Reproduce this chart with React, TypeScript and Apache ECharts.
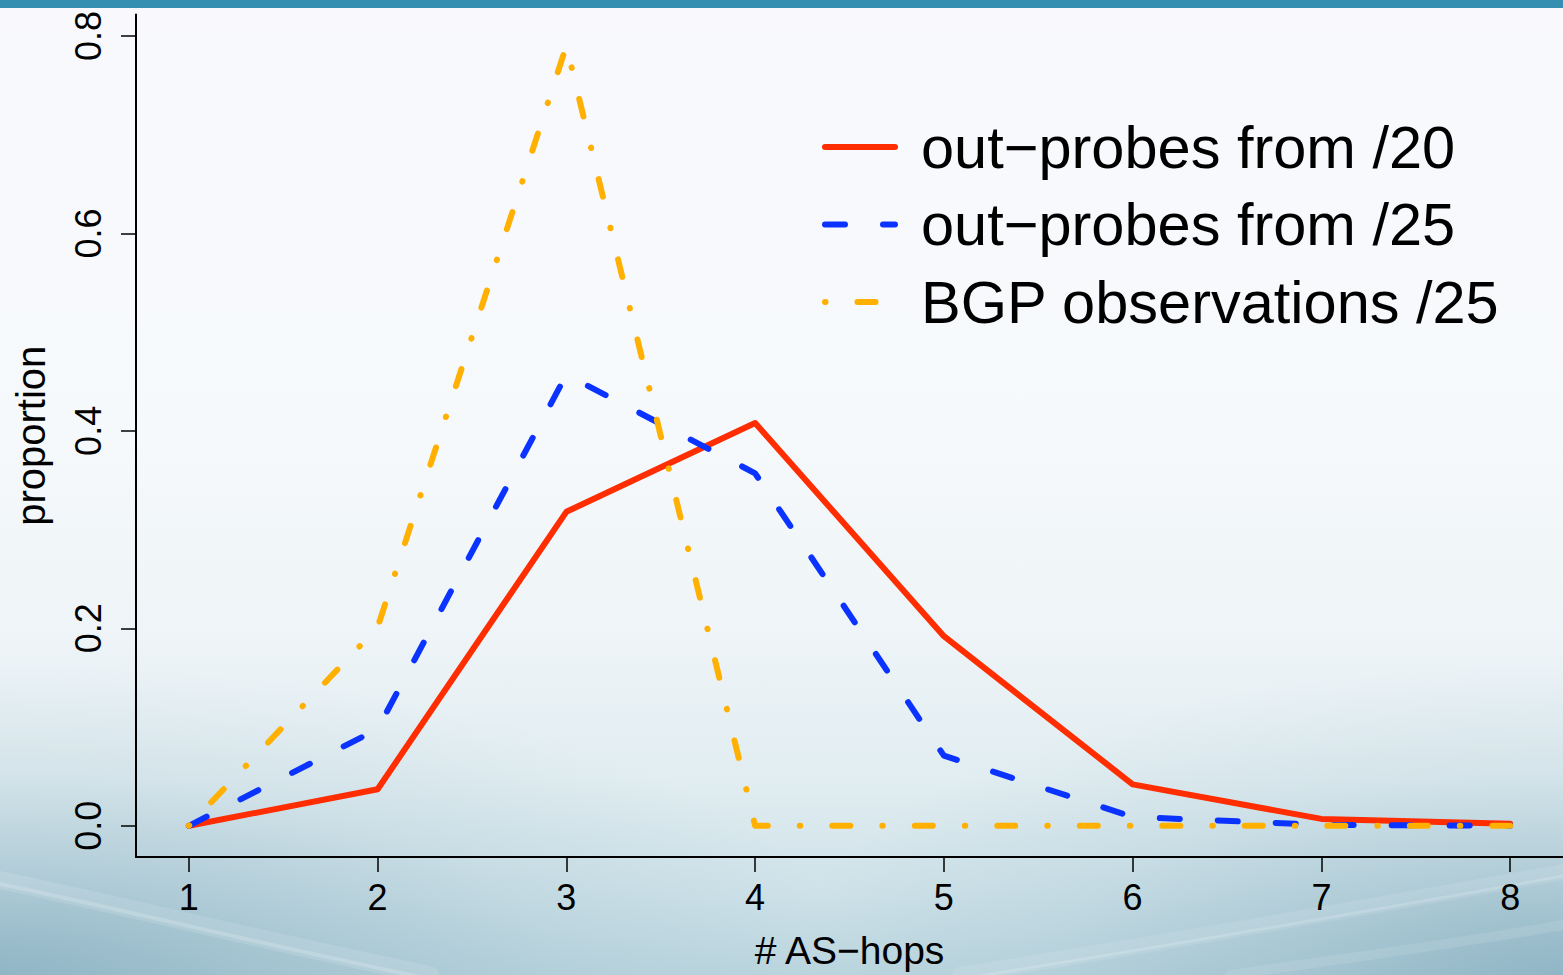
import React, { useEffect, useRef } from "react";
import * as echarts from "echarts";

const hops = [1, 2, 3, 4, 5, 6, 7, 8];
const probes20 = [0, 0.037, 0.318, 0.408, 0.192, 0.042, 0.007, 0.002];
const probes25 = [0, 0.098, 0.457, 0.357, 0.071, 0.009, 0.001, 0];
const bgp25 = [0, 0.201, 0.79, 0, 0, 0, 0, 0];
const seriesNames = ["out−probes from /20", "out−probes from /25", "BGP observations /25"];
const xTicks = [1, 2, 3, 4, 5, 6, 7, 8];
const yTicks = [0, 0.2, 0.4, 0.6, 0.8];

const FONT = "'Liberation Sans', Helvetica, Arial, sans-serif";

export default function App() {
  const ref = useRef<HTMLDivElement>(null);
  useEffect(() => {
    if (!ref.current) return;
    const chart = echarts.init(ref.current, undefined, { renderer: "svg" });
    const pts = (vals: number[]) => hops.map((h, i) => [h, vals[i]]);
    const swoosh = (x1: number, y1: number, cx1: number, cy1: number, cx2: number, cy2: number, x2: number, y2: number, w: number, a: number) => ({
      type: "bezierCurve",
      z: -10,
      silent: true,
      shape: { x1, y1, cpx1: cx1, cpy1: cy1, cpx2: cx2, cpy2: cy2, x2, y2 },
      style: { stroke: `rgba(255,255,255,${a})`, lineWidth: w, fill: "none", lineCap: "round" },
    });
    chart.setOption({
      animation: false,
      backgroundColor: "transparent",
      textStyle: { fontFamily: FONT },
      grid: { left: 136, top: 14.6, width: 1432, height: 843.6, containLabel: false },
      xAxis: {
        type: "value",
        min: 0.72,
        max: 8.28,
        name: "# AS−hops",
        nameLocation: "middle",
        nameGap: 74,
        nameTextStyle: { fontSize: 39, color: "#000", fontFamily: FONT },
        axisLine: { show: true, onZero: false, lineStyle: { color: "#000", width: 2 } },
        axisTick: { show: true, customValues: xTicks, length: 15, inside: false, lineStyle: { color: "#000", width: 1.5 } },
        axisLabel: {
          customValues: xTicks,
          fontSize: 36,
          color: "#000",
          margin: 22,
          fontFamily: FONT,
          formatter: (v: number) => String(v),
        },
        splitLine: { show: false },
      },
      yAxis: {
        type: "value",
        min: -0.0316,
        max: 0.8216,
        name: "proportion",
        nameLocation: "middle",
        nameRotate: 90,
        nameGap: 85,
        nameTextStyle: { fontSize: 40, color: "#000", fontFamily: FONT },
        axisLine: { show: true, onZero: false, lineStyle: { color: "#000", width: 2 } },
        axisTick: { show: true, customValues: yTicks, length: 15, inside: false, lineStyle: { color: "#000", width: 1.5 } },
        axisLabel: {
          customValues: yTicks,
          rotate: 90,
          fontSize: 36,
          color: "#000",
          margin: 30,
          fontFamily: FONT,
          formatter: (v: number) => v.toFixed(1),
        },
        splitLine: { show: false },
      },
      legend: {
        orient: "vertical",
        left: 822,
        top: 117,
        padding: 0,
        itemWidth: 70,
        itemHeight: 14,
        itemGap: 17.5,
        selectedMode: false,
        data: seriesNames,
        itemStyle: { opacity: 0, borderWidth: 0 },
        lineStyle: { width: 6, cap: "round" },
        textStyle: { fontSize: 59.5, lineHeight: 60, color: "#000", fontFamily: FONT, padding: [0, 0, 0, 21] },
      },
      graphic: [
        { type: "rect", z: -10, silent: true, shape: { x: 0, y: 0, width: 1563, height: 8 }, style: { fill: "#358fb0" } },
        swoosh(0, 880, 120, 905, 260, 940, 430, 975, 18, 0.12),
        swoosh(0, 884, 120, 909, 260, 944, 430, 979, 4, 0.18),
        swoosh(1563, 872, 1380, 905, 1150, 945, 960, 975, 16, 0.1),
        swoosh(1563, 876, 1380, 909, 1150, 949, 960, 979, 3, 0.16),
        swoosh(1563, 925, 1450, 945, 1320, 962, 1230, 975, 10, 0.1),
      ],
      series: [
        {
          name: seriesNames[0],
          type: "line",
          data: pts(probes20),
          symbol: "none",
          color: "#ff2d00",
          lineStyle: { color: "#ff2d00", width: 6, type: "solid", cap: "round", join: "round" },
        },
        {
          name: seriesNames[1],
          type: "line",
          data: pts(probes25),
          symbol: "none",
          color: "#0b33ff",
          lineStyle: { color: "#0b33ff", width: 6, type: [20, 38], cap: "round", join: "round" },
        },
        {
          name: seriesNames[2],
          type: "line",
          data: pts(bgp25),
          symbol: "none",
          color: "#ffb000",
          lineStyle: { color: "#ffb000", width: 6, type: [0.5, 32, 18, 32], cap: "round", join: "round" },
        },
      ],
    });
    return () => chart.dispose();
  }, []);
  return (
    <div
      style={{
        position: "fixed",
        left: 0,
        top: 0,
        width: 1563,
        height: 975,
        overflow: "hidden",
        background:
          "radial-gradient(ellipse 55% 32% at 0% 100%, rgba(115,160,180,0.6) 0%, rgba(115,160,180,0.32) 35%, rgba(115,160,180,0.12) 65%, rgba(115,160,180,0) 100%), radial-gradient(ellipse 50% 32% at 100% 100%, rgba(115,160,180,0.6) 0%, rgba(115,160,180,0.32) 35%, rgba(115,160,180,0.12) 65%, rgba(115,160,180,0) 100%), linear-gradient(180deg, #f9f9fd 0%, #f6f9fb 45%, #eef4f7 65%, #e1edf1 80%, #cde1e8 92%, #bcd6df 100%)",
      }}
    >
      <div ref={ref} style={{ width: 1563, height: 975 }} />
    </div>
  );
}
